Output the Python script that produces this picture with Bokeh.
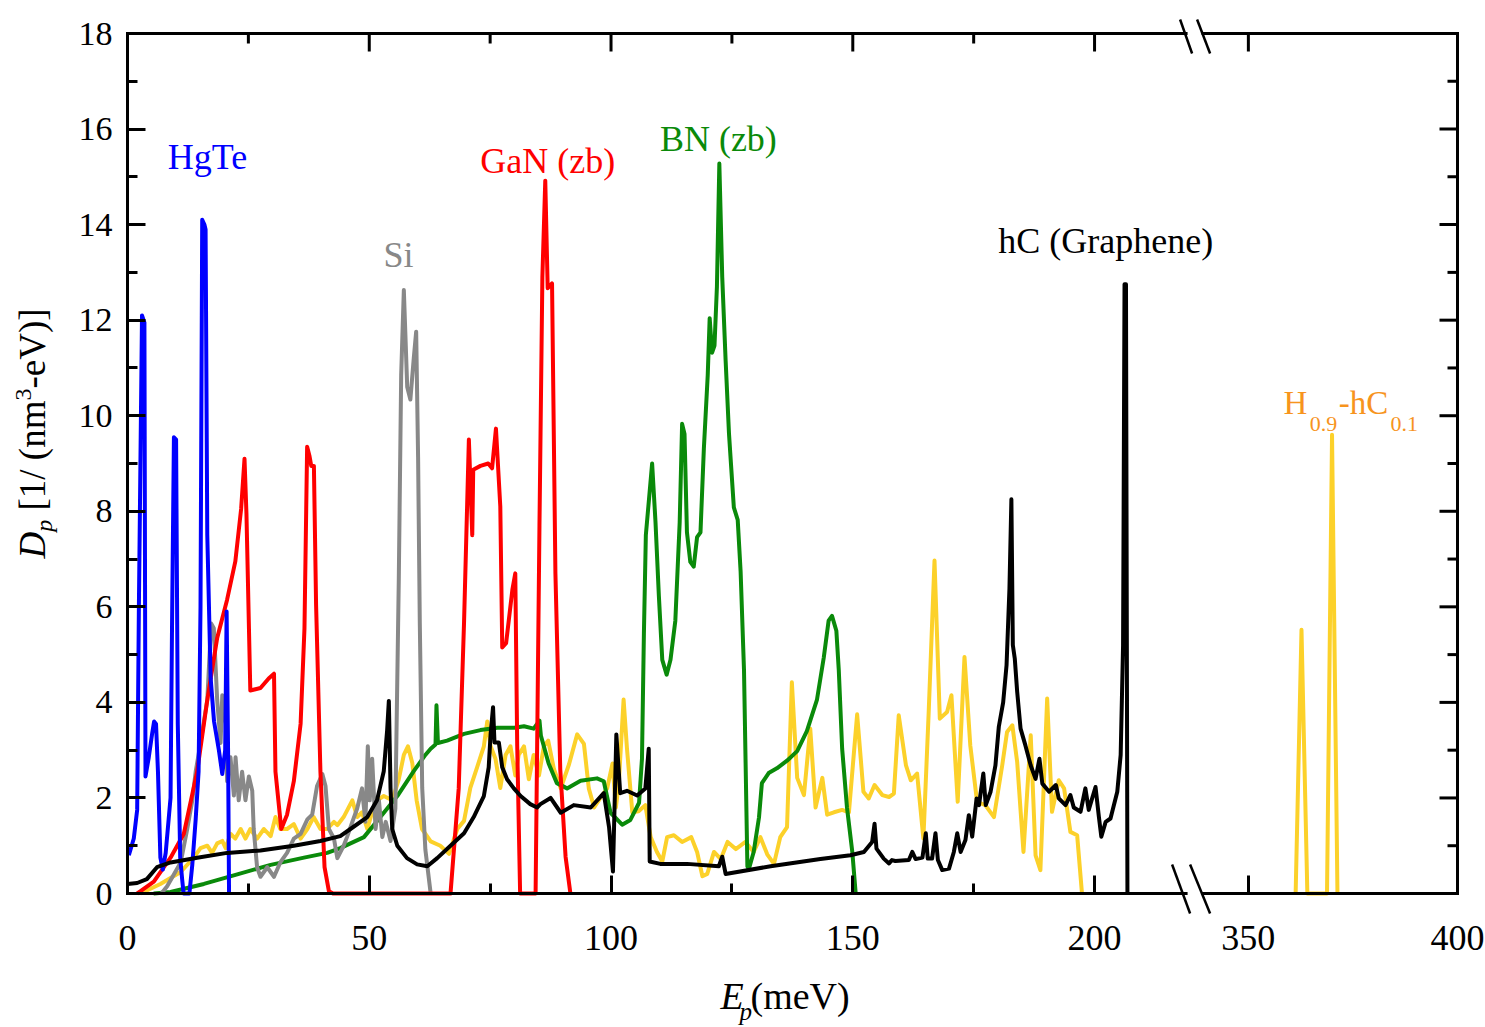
import math
from bokeh.plotting import figure
from bokeh.models import Range1d, LinearAxis, FixedTicker, Label
from bokeh.embed import file_html
from bokeh.resources import INLINE

# ---------------- data (E in meV, D in 1/(nm^3 eV)) ----------------
hgte_e = [0.28, 1.3, 2.0, 2.35, 3.0, 3.5, 3.72, 4.4, 5.1, 5.5, 5.9, 6.3, 6.8, 7.3, 7.9, 8.9, 9.2, 9.6,
          10.05, 10.4, 10.9, 11.3, 11.6, 12.8, 13.4, 14.1, 14.7, 15.1, 15.45, 15.9, 16.15, 16.5, 17.2,
          17.9, 18.9, 19.6, 20.2, 20.5, 20.8, 21.0]
hgte_d = [0.8, 1.15, 1.75, 5.95, 12.1, 11.95, 2.45, 2.85, 3.35, 3.6, 3.55, 2.55, 0.75, 0.5, 0.85, 2.0, 5.5, 9.55,
          9.5, 3.55, 0.75, 0.3, 0.0, 0.0, 0.6, 1.55, 2.55, 6.0, 14.1, 14.0, 13.9, 7.5, 4.5,
          3.6, 3.0, 2.5, 3.0, 5.9, 3.0, 0.0]

gan_e = [2.0, 2.7, 5.45, 8.9, 11.65, 14.4, 16.5, 18.55, 20.6, 22.3, 23.5, 24.2, 24.6, 25.4, 27.5, 29.2, 30.3,
         30.6, 31.8, 33.0, 34.4, 35.8, 36.6, 37.15, 37.65, 38.0, 38.55, 39.0, 39.9, 40.75, 41.65, 42.5,
         66.8, 68.5, 69.6, 70.6, 71.3, 71.5, 73.0, 74.6, 75.4, 76.2, 77.1, 77.5, 78.3, 79.6, 80.2, 80.6, 81.2,
         84.4, 85.2, 85.8, 86.4, 86.9, 87.8, 88.5, 89.5, 90.6, 91.6]
gan_d = [0.0, 0.05, 0.25, 0.75, 1.25, 2.55, 4.05, 5.35, 6.15, 6.95, 8.05, 9.1, 7.95, 4.25, 4.3, 4.5, 4.6,
         2.55, 1.35, 1.65, 2.35, 3.55, 5.55, 9.35, 9.15, 8.95, 8.95, 6.05, 2.55, 0.55, 0.05, 0.0,
         0.0, 2.2, 5.67, 9.5, 7.5, 8.87, 8.95, 9.0, 8.9, 9.73, 8.1, 5.15, 5.24, 6.36, 6.7, 3.08, 0.0,
         0.0, 7.7, 12.9, 14.92, 12.67, 12.77, 6.7, 2.6, 0.77, 0.0]

si_e = [7.0, 8.2, 11.0, 12.35, 13.4, 14.1, 15.1, 16.5, 17.3, 17.85, 18.55, 19.25, 19.6, 20.3, 20.6, 21.3,
        22.0, 22.35, 23.0, 23.7, 24.4, 25.1, 25.8, 26.1, 26.8, 27.5, 28.9, 30.3, 31.6, 33.0, 34.4, 35.8,
        37.2, 38.2, 39.2, 40.3, 40.95, 41.65, 42.7, 43.4, 44.7, 45.4, 46.5, 47.5, 48.5, 49.2, 49.7, 50.1,
        50.6, 51.3, 52.0, 52.7, 53.4, 54.4, 55.4, 56.1, 56.6, 57.15, 57.85, 58.5, 59.2, 59.7, 60.1, 60.45,
        60.95, 61.6, 62.7]
si_d = [0.0, 0.15, 0.65, 1.35, 1.95, 2.55, 3.15, 4.05, 5.65, 5.55, 4.05, 3.15, 4.15, 3.55, 2.35, 2.85,
        2.05, 2.85, 1.95, 2.55, 1.95, 2.45, 2.15, 1.35, 0.55, 0.35, 0.55, 0.35, 0.65, 0.85, 1.15, 1.25,
        1.55, 1.65, 2.25, 2.5, 2.25, 1.35, 1.15, 0.74, 1.0, 1.18, 1.5, 1.78, 2.2, 1.5, 3.08, 1.95,
        2.82, 1.35, 1.95, 1.18, 1.5, 1.1, 1.78, 6.53, 10.85, 12.63, 10.6, 10.34, 11.2, 11.76, 9.13, 5.67,
        2.21, 0.92, 0.0]

bn_e = [5.4, 8.9, 15.8, 22.7, 29.6, 36.5, 41.3, 44.0, 48.9, 52.3, 55.8, 59.2, 61.6, 62.7, 63.7, 63.9, 64.2,
        66.1, 69.6, 73.0, 76.5, 80.0, 82.0, 84.0, 85.2, 85.5, 87.1, 88.8, 90.9, 93.7, 97.1, 98.5, 99.9,
        102.3, 104.0, 105.8, 106.4, 106.8, 107.2, 108.5, 109.2, 109.9, 110.6, 111.5, 112.3, 113.3, 114.2,
        114.7, 115.2, 115.7, 116.4, 117.1, 117.8, 118.5, 119.2, 120.0, 120.4, 120.9, 121.4, 121.9, 122.4,
        123.0, 123.7, 124.4, 124.8, 125.4, 126.2, 126.8, 127.5, 128.2, 128.5, 129.5, 130.6, 131.2, 132.6,
        134.3, 136.4, 138.5, 140.5, 142.6, 144.0, 145.0, 145.7, 146.6, 147.1, 147.8, 148.8, 149.9, 150.6]
bn_d = [0.0, 0.03, 0.2, 0.4, 0.6, 0.75, 0.85, 0.95, 1.18, 1.6, 2.04, 2.56, 2.9, 3.03, 3.12, 3.94, 3.15,
        3.2, 3.34, 3.42, 3.47, 3.47, 3.5, 3.45, 3.62, 3.3, 2.72, 2.31, 2.2, 2.36, 2.41, 2.35, 1.69,
        1.44, 1.54, 1.9, 2.82, 5.45, 7.5, 9.0, 7.77, 6.22, 4.89, 4.58, 4.89, 5.71, 7.77,
        9.83, 9.62, 7.56, 6.94, 6.84, 7.46, 7.56, 9.31, 10.85, 12.04, 11.32, 11.47, 12.7, 15.28,
        12.9, 11.16, 9.62, 9.0, 8.08, 7.82, 6.74, 4.68, 0.57, 0.51, 0.87, 1.59, 2.31, 2.52,
        2.62, 2.78, 2.98, 3.4, 4.06, 4.94, 5.71, 5.81, 5.5, 4.68, 3.03, 1.8, 0.87, 0.0]

hc_e = [0.0, 2.0, 4.0, 6.1, 8.9, 14.4, 20.6, 27.5, 34.4, 39.9, 44.0, 46.1, 49.6, 51.6, 53.0, 53.7, 54.05,
        54.4, 54.75, 55.8, 57.8, 59.9, 62.0, 64.05, 66.8, 69.6, 71.6, 73.7, 74.7, 75.1, 75.6, 75.9, 76.8,
        77.5, 78.5, 79.9, 81.3, 83.3, 84.7, 85.4, 87.5, 89.6, 92.3, 95.8, 98.5, 99.6, 100.4, 101.1, 101.9,
        103.3, 105.4, 107.1, 107.8, 108.0, 110.2, 115.7, 122.3, 123.0, 123.7, 133.0, 143.3, 149.5, 152.3,
        154.0, 154.5, 154.9, 156.4, 157.5, 158.1, 158.8, 161.6, 162.3, 163.0, 164.4, 165.1, 165.5, 166.4,
        167.1, 167.6, 168.5, 169.9, 170.9, 171.6, 172.3, 173.3, 174.0, 174.7, 175.6, 176.1, 177.0, 177.5,
        178.5, 179.5, 180.2, 181.1, 181.8, 182.4, 182.8, 183.1, 183.5, 184.0, 184.7, 185.7, 186.8, 187.8,
        188.6, 189.2, 190.6, 192.0, 192.6, 194.0, 195.0, 195.7, 197.1, 198.1, 198.8, 200.2, 200.9, 201.4,
        202.3, 203.3, 204.7, 205.4, 205.9, 206.2, 206.5, 206.8]
hc_d = [0.2, 0.22, 0.3, 0.55, 0.65, 0.75, 0.85, 0.9, 1.0, 1.1, 1.2, 1.35, 1.6, 1.95, 2.56, 3.42, 4.03,
        2.2, 1.35, 1.0, 0.74, 0.61, 0.57, 0.74, 1.0, 1.26, 1.6, 2.04, 2.64, 3.34, 3.9, 3.16, 3.16,
        2.64, 2.39, 2.2, 2.04, 1.87, 1.8, 1.87, 2.0, 1.69, 1.85, 1.8, 2.1, 1.38, 0.46, 3.33, 2.1,
        2.15, 2.05, 2.2, 3.03, 0.67, 0.62, 0.62, 0.57, 0.77, 0.41, 0.57, 0.72, 0.8, 0.87,
        1.08, 1.46, 0.94, 0.73, 0.63, 0.7, 0.68, 0.7, 0.87, 0.72, 0.75, 1.26, 0.73, 0.73,
        1.26, 0.7, 0.49, 0.52, 0.87, 1.26, 0.87, 1.12, 1.64, 1.19, 1.99, 1.85, 2.51, 1.85,
        2.13, 2.68, 3.49, 4.0, 4.78, 6.38, 8.25, 5.2, 4.92, 4.22, 3.45, 3.1, 2.68, 2.4,
        2.82, 2.3, 2.13, 2.27, 1.99, 1.85, 2.06, 1.8, 1.71, 2.2, 1.75, 2.23, 1.6, 1.19,
        1.5, 1.57, 2.13, 2.9, 5.2, 12.75, 12.75, 0.0]

h09_e = [2.7, 6.8, 11.0, 13.7, 15.1, 16.5, 17.5, 18.55, 19.6, 20.3, 21.3, 22.3, 23.4, 24.4, 25.4, 26.8, 28.2,
         29.6, 30.6, 31.6, 33.0, 34.4, 35.8, 37.2, 38.5, 39.9, 41.3, 42.7, 43.4, 44.7, 46.5, 47.5, 48.5,
         49.6, 50.6, 51.6, 53.0, 54.75, 56.1, 57.15, 58.0, 58.9, 59.8, 60.9, 62.7, 64.7, 66.5, 68.2, 69.6,
         70.9, 72.3, 73.7, 74.4, 75.1, 76.1, 77.1, 78.2, 79.2, 80.2, 80.9, 82.0, 83.0, 84.0, 85.1, 86.1,
         87.0, 88.2, 89.6, 91.3, 93.0, 94.4, 95.4, 96.5, 97.8, 99.2, 100.3, 101.0, 101.6, 102.6, 103.3,
         104.4, 105.7, 107.1, 108.2, 109.5, 110.6, 111.6, 113.0, 114.7, 116.6, 117.8, 118.9, 119.9, 121.3,
         122.7, 124.1, 125.8, 127.8, 129.5, 130.9, 132.3, 133.7, 135.0, 136.4, 137.4, 138.5, 139.9, 141.2,
         142.3, 143.7, 144.7, 146.1, 147.8, 149.2, 150.9, 152.2, 153.3, 154.5, 156.1, 157.5, 158.5, 159.5,
         161.0, 162.0, 163.3, 164.6, 165.7, 166.9, 168.0, 169.5, 170.4, 171.7, 173.1, 174.3, 175.7, 177.4,
         179.2, 180.9, 181.9, 183.0, 184.0, 185.3, 186.8, 187.8, 188.8, 190.2, 191.2, 192.6, 193.7, 195.0,
         196.4, 197.4]
h09_d = [0.0, 0.2, 0.45, 0.75, 0.95, 1.0, 0.85, 1.05, 1.1, 0.95, 1.25, 1.15, 1.35, 1.15, 1.35, 1.15, 1.35,
         1.2, 1.6, 1.35, 1.35, 1.45, 1.15, 1.35, 1.6, 1.35, 1.35, 1.5, 1.43, 1.6, 1.95, 1.6, 1.7,
         1.35, 1.7, 1.95, 2.04, 1.95, 2.39, 2.9, 3.08, 2.73, 1.95, 1.35, 1.09, 1.0, 0.83, 1.35, 1.52,
         2.21, 2.64, 3.08, 3.6, 3.08, 2.82, 2.21, 2.9, 3.08, 2.47, 2.9, 3.08, 2.39, 2.9, 2.47, 3.08,
         3.2, 2.6, 2.2, 2.7, 3.33, 3.13, 2.2, 1.8, 2.0, 2.2, 2.72, 1.8, 2.3, 4.06, 3.03,
         1.7, 1.72, 1.85, 1.18, 0.87, 0.67, 1.18, 1.22, 1.08, 1.18, 0.87, 0.36, 0.41, 0.87,
         0.72, 1.08, 0.93, 1.08, 0.87, 1.18, 0.82, 0.62, 1.18, 1.39, 4.42, 2.42, 2.06, 3.45,
         1.8, 2.42, 1.65, 1.7, 1.75, 1.7, 3.75, 2.13, 1.99, 2.27, 2.06, 2.02, 2.09, 3.73,
         2.68, 2.37, 2.51, 1.15, 3.8, 6.97, 3.66, 3.8, 4.15, 1.92, 4.95, 3.1, 1.92, 1.85,
         1.6, 2.68, 3.38, 3.52, 2.75, 0.87, 3.31, 0.8, 0.49, 4.08, 1.71, 2.37, 2.2, 1.29,
         1.22, 0.0]
h09_far_e = [361.3, 362.7, 364.1, 368.8, 370.0, 371.3]
h09_far_d = [0.0, 5.52, 0.0, 0.0, 9.6, 0.0]

x_major = [0, 50, 100, 150, 200, 350, 400]
x_minor = [25, 75, 125, 175]
y_major = [0, 2, 4, 6, 8, 10, 12, 14, 16, 18]
y_minor = [1, 3, 5, 7, 9, 11, 13, 15, 17]

# ---------------- broken x axis ----------------
BREAK_LO = 221.0     # last energy shown before the break
BREAK_HI = 337.5     # first energy shown after the break
RIGHT_SCALE = 0.865  # the right segment is drawn slightly compressed


def to_axis(e):
    return e if e <= BREAK_LO else BREAK_LO + (e - BREAK_HI) * RIGHT_SCALE


def axis_list(vals):
    return [round(to_axis(v), 4) for v in vals]


X_END = to_axis(400)
Y_END = 18.0
FONT = "Liberation Serif"

# the axes box occupies pixels 127..1457 (x) and 33..893 (y) of the 1485x1027 canvas
W, H = 1485, 1027
BOX_L, BOX_R, BOX_T, BOX_B = 127, 1457, 33, 893
PX_X = X_END / (BOX_R - BOX_L)   # data units per pixel
PX_Y = Y_END / (BOX_B - BOX_T)
BASE_FIX = 0.39                  # em offset between the wanted and the drawn baseline

p = figure(width=W, height=H,
           x_range=Range1d(-BOX_L * PX_X, (W - BOX_L) * PX_X),
           y_range=Range1d(-(H - BOX_B) * PX_Y, BOX_B * PX_Y),
           output_backend="svg", toolbar_location=None,
           x_axis_location=None, y_axis_location=None)
p.min_border = 0
p.min_border_left = 0
p.min_border_right = 0
p.min_border_top = 0
p.min_border_bottom = 0
p.outline_line_color = None
p.xgrid.grid_line_color = None
p.ygrid.grid_line_color = None
p.background_fill_color = "white"
p.border_fill_color = "white"


def style(ax, size, standoff):
    ax.axis_line_color = None
    ax.major_tick_line_width = 3
    ax.minor_tick_line_width = 3
    ax.major_tick_line_color = "black"
    ax.minor_tick_line_color = "black"
    ax.major_tick_in = 18
    ax.major_tick_out = 0
    ax.minor_tick_in = 10
    ax.minor_tick_out = 0
    ax.major_label_text_font = FONT
    ax.major_label_text_font_size = size
    ax.major_label_text_color = "black"
    ax.major_label_standoff = standoff


xt = FixedTicker(ticks=axis_list(x_major), minor_ticks=axis_list(x_minor))
yt = FixedTicker(ticks=y_major, minor_ticks=y_minor)
bottom = LinearAxis(ticker=xt, fixed_location=0,
                    major_label_overrides={round(to_axis(v), 4): str(v) for v in x_major})
style(bottom, "36px", 32)
left = LinearAxis(ticker=yt, fixed_location=0)
style(left, "34px", 15)
p.add_layout(bottom, "below")
p.add_layout(left, "left")

# ---------------- curves ----------------
LW = 4
p.line(axis_list(h09_e), h09_d, line_color="#FCD12A", line_width=LW, line_join="round")
p.line(axis_list(h09_far_e), h09_far_d, line_color="#FCD12A", line_width=LW, line_join="round")
p.line(axis_list(bn_e), bn_d, line_color="#0A8A0A", line_width=LW, line_join="round")
p.line(axis_list(si_e), si_d, line_color="#888888", line_width=LW, line_join="round")
p.line(axis_list(gan_e), gan_d, line_color="#FF0000", line_width=LW, line_join="round")
p.line(axis_list(hgte_e), hgte_d, line_color="#0000FF", line_width=LW, line_join="round")
p.line(axis_list(hc_e), hc_d, line_color="#000000", line_width=LW, line_join="round")

# ---------------- box, mirrored ticks and axis-break marks ----------------
brk = BOX_L + to_axis(BREAK_LO) / PX_X          # pixel column of the break
gap_l, gap_r = (brk - 10 - BOX_L) * PX_X, (brk + 7 - BOX_L) * PX_X
fx0 = [0, gap_r, 0, gap_r, 0, X_END]
fy0 = [Y_END, Y_END, 0, 0, 0, 0]
fx1 = [gap_l, X_END, gap_l, X_END, 0, X_END]
fy1 = [Y_END, Y_END, 0, 0, Y_END, Y_END]
p.segment(fx0, fy0, fx1, fy1, line_color="black", line_width=3, line_cap="square")

tx = axis_list(x_major) + axis_list(x_minor)
tl = [18 * PX_Y] * len(x_major) + [10 * PX_Y] * len(x_minor)
p.segment(tx, [Y_END] * len(tx), tx, [Y_END - t for t in tl], line_color="black", line_width=3)
ty = y_major + y_minor
tw = [18 * PX_X] * len(y_major) + [10 * PX_X] * len(y_minor)
p.segment([X_END] * len(ty), ty, [X_END - t for t in tw], ty, line_color="black", line_width=3)

# slashes: (pixel offsets from break column / box edge)
sl = [(-16, -14, -4, 20, Y_END), (1, -14, 14, 20, Y_END),
      (-24, -29, -6, 20, 0), (-6, -29, 14, 20, 0)]
p.segment([(brk + a - BOX_L) * PX_X for a, b, c, d, e in sl],
          [e - b * PX_Y for a, b, c, d, e in sl],
          [(brk + c - BOX_L) * PX_X for a, b, c, d, e in sl],
          [e - d * PX_Y for a, b, c, d, e in sl],
          line_color="black", line_width=2.5)


def label(txt, x, y, size, color="black", st="normal", align="left", angle=0.0):
    # x, y: data position of the wanted alphabetic baseline start
    fix = BASE_FIX * size
    if angle:
        x = x - fix * PX_X
    else:
        y = y + fix * PX_Y
    p.add_layout(Label(x=x, y=y, text=txt, text_font=FONT, text_font_size=f"{size}px",
                       text_font_style=st, text_color=color, text_align=align,
                       text_baseline="alphabetic", angle=angle, angle_units="rad"))


# ---------------- curve names ----------------
names = [("HgTe", 16.55, 15.13, "#0000FF"),
         ("Si", 56.05, 13.06, "#888888"),
         ("GaN (zb)", 86.9, 15.03, "#FF0000"),
         ("BN (zb)", 122.2, 15.49, "#0A8A0A"),
         ("hC (Graphene)", 202.3, 13.37, "#000000")]
for txt, ex, dy, col in names:
    label(txt, to_axis(ex), dy, 36, color=col, align="center")

ORANGE = "#F7941D"
for txt, ex, dy, size in [("H", 358.4, 10.0, 33), ("0.9", 364.7, 9.65, 22),
                          ("-hC", 371.6, 10.0, 33), ("0.1", 384.0, 9.65, 22)]:
    label(txt, to_axis(ex), dy, size, color=ORANGE)

# ---------------- axis titles (built from pieces) ----------------
for txt, dx, dy, size, st in [("E", 593, -117, 38, "italic"), ("p", 612, -128, 25, "italic"),
                              ("(meV)", 623, -117, 38, "normal")]:
    label(txt, dx * PX_X, dy * PX_Y, size, st=st)

# (text, advance in em, size, style, sideways shift px, leading gap em)
ypieces = [("D", 0.722, 37, "italic", 0, 0.0), ("p", 0.5, 24, "italic", 7, 0.0),
           ("[1/ (nm", 2.972, 37, "normal", 0, 0.25), ("3", 0.5, 24, "normal", -14, 0.0),
           ("-eV)]", 2.165, 37, "normal", 0, 0.0)]
pos = 335.0  # pixels above the x axis where the title starts
for txt, w_em, size, st, shift, gap in ypieces:
    pos += gap * size
    label(txt, (-81 + shift) * PX_X, pos * PX_Y, size, st=st, angle=math.pi / 2)
    pos += w_em * size

open("out.html", "w").write(file_html(p, INLINE))
